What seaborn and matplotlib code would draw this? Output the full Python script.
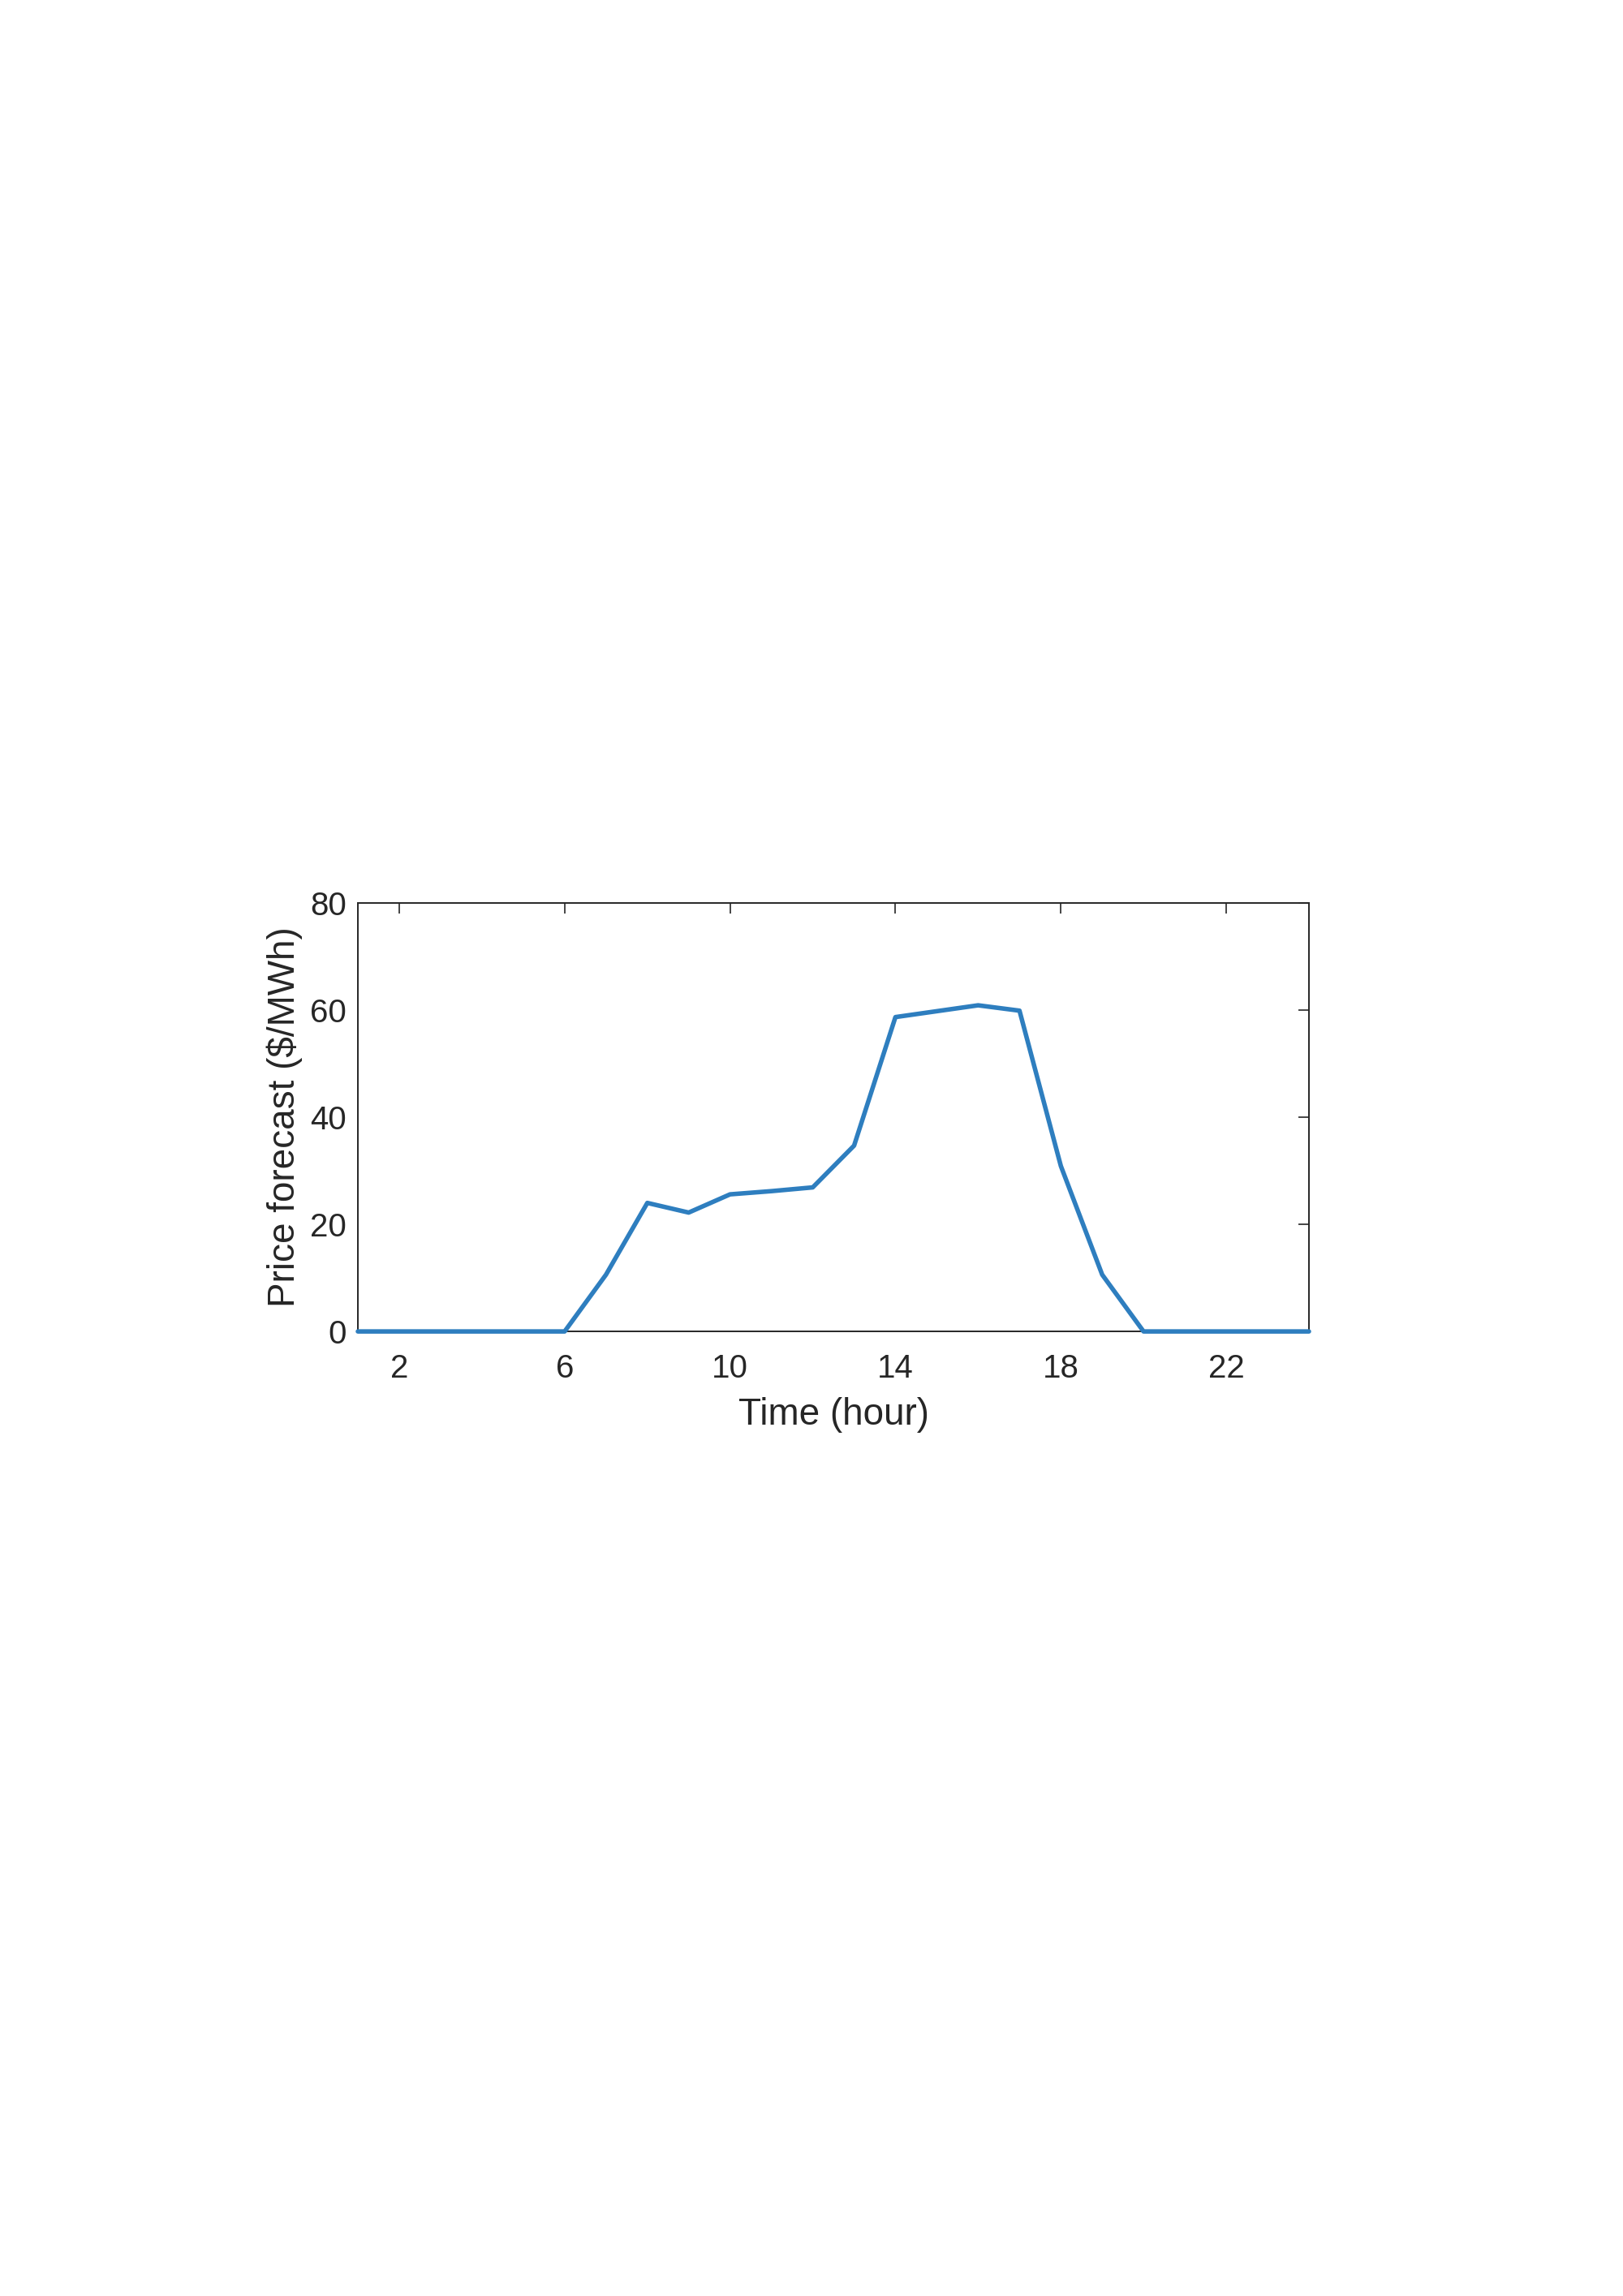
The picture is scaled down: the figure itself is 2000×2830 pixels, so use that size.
import pandas as pd
import seaborn as sns
import matplotlib.pyplot as plt

# hourly price forecast
hours = list(range(1, 25))
price = [0, 0, 0, 0, 0, 0, 10.6, 24.0, 22.2, 25.6, 26.2, 26.9,
         34.7, 58.7, 59.8, 60.9, 59.9, 30.9, 10.6, 0, 0, 0, 0, 0]
x_ticks = [2, 6, 10, 14, 18, 22]
y_ticks = [0, 20, 40, 60, 80]

df = pd.DataFrame({'Hour': hours, 'Price': price})

sns.set_theme(style="white")
plt.rcParams['font.family'] = ['Liberation Sans', 'DejaVu Sans']

fig = plt.figure(figsize=(10, 14.15), dpi=200)
ax = fig.add_axes([0.2205, 0.4201, 0.586, 0.1866])

sns.lineplot(data=df, x='Hour', y='Price', color='#2e7ebf', linewidth=2.0,
             ax=ax, clip_on=False, zorder=5)

ax.set_xlim(1, 24)
ax.set_ylim(0, 80)
ax.set_xticks(x_ticks)
ax.set_yticks(y_ticks)
ax.tick_params(direction='in', length=4.8, width=0.6, color='#262626',
               top=True, right=True, labelsize=14.5, labelcolor='#262626')
ax.tick_params(axis='x', pad=9.5)
ax.tick_params(axis='y', pad=5)
for s in ax.spines.values():
    s.set_color('#262626')
    s.set_linewidth(0.7)

ax.set_xlabel('Time (hour)', fontsize=16.5, color='#262626', labelpad=6)
ax.set_ylabel('Price forecast ($/MWh)', fontsize=16.5, color='#262626', labelpad=3.5)

plt.savefig('out.png', dpi=200, facecolor='white')
